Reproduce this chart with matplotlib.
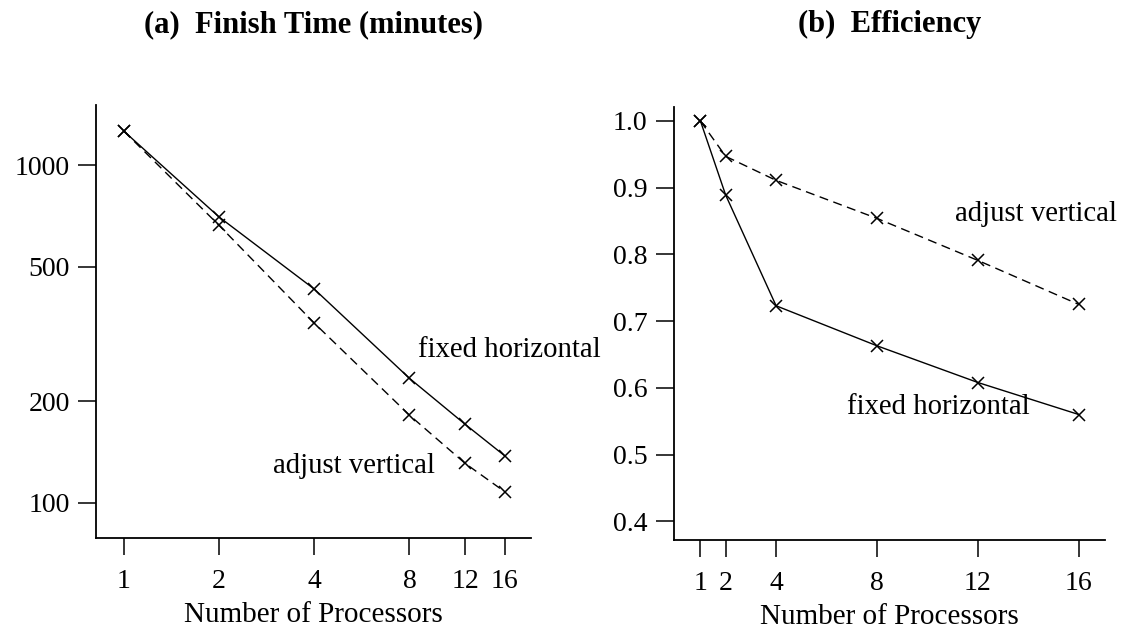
import matplotlib
matplotlib.use("Agg")
import matplotlib.pyplot as plt
from matplotlib.ticker import FixedLocator, FixedFormatter, NullLocator

plt.rcParams['font.family'] = ['Liberation Serif', 'DejaVu Serif']
plt.rcParams['font.size'] = 20

# Number of processors
procs = [1, 2, 4, 8, 12, 16]

# Finish time (minutes)
time_fixed_horizontal = [1262, 703, 430, 234, 171, 138]
time_adjust_vertical = [1262, 664, 341, 182, 131, 108]

# Efficiency
eff_fixed_horizontal = [1.0, 0.889, 0.723, 0.663, 0.608, 0.560]
eff_adjust_vertical = [1.0, 0.947, 0.911, 0.854, 0.791, 0.725]

time_ticks = [100, 200, 500, 1000]
eff_ticks = [0.4, 0.5, 0.6, 0.7, 0.8, 0.9, 1.0]

fig = plt.figure(figsize=(11.27, 6.33), dpi=100)
ax1 = fig.add_axes([0.0852, 0.150, 0.386, 0.684])
ax2 = fig.add_axes([0.5980, 0.147, 0.3825, 0.684])

dash = (0, (6.5, 4))
mk = dict(marker='x', markersize=9, markeredgewidth=1.1, color='black')

def style(ax):
    for s in ('top', 'right'):
        ax.spines[s].set_visible(False)
    for s in ('left', 'bottom'):
        ax.spines[s].set_linewidth(1.3)
    ax.tick_params(axis='both', which='major', direction='out',
                   width=1.1, labelsize=20, colors='black')
    ax.tick_params(axis='x', length=12.5, pad=9.5)
    ax.tick_params(axis='y', length=13, pad=6)
    ax.set_xlabel('Number of Processors', fontsize=21, labelpad=6)

# (a) finish time, log-log
ax1.set_xscale('log', base=2)
ax1.set_yscale('log')
ax1.plot(procs, time_fixed_horizontal, linestyle='-', linewidth=1.0, **mk)
ax1.plot(procs, time_adjust_vertical, linestyle=dash, linewidth=1.0, **mk)
ax1.set_xlim(0.817, 19.4)
ax1.set_ylim(78.7, 1507)
ax1.xaxis.set_major_locator(FixedLocator(procs))
ax1.xaxis.set_major_formatter(FixedFormatter([str(p) for p in procs]))
ax1.xaxis.set_minor_locator(NullLocator())
ax1.yaxis.set_major_locator(FixedLocator(time_ticks))
ax1.yaxis.set_major_formatter(FixedFormatter([str(t) for t in time_ticks]))
ax1.yaxis.set_minor_locator(NullLocator())
style(ax1)
ax1.text(8.5, 283, 'fixed horizontal', ha='left', va='center', fontsize=20.7)
ax1.text(2.96, 129, 'adjust vertical', ha='left', va='center', fontsize=20.7)

# (b) efficiency
ax2.plot(procs, eff_fixed_horizontal, linestyle='-', linewidth=1.0, **mk)
ax2.plot(procs, eff_adjust_vertical, linestyle=dash, linewidth=1.0, **mk)
ax2.set_xlim(-0.05, 17.04)
ax2.set_ylim(0.372, 1.021)
ax2.set_xticks(procs)
ax2.set_xticklabels([str(p) for p in procs])
ax2.set_yticks(eff_ticks)
ax2.set_yticklabels([f'{v:.1f}' for v in eff_ticks])
style(ax2)
ax2.text(11.1, 0.860, 'adjust vertical', ha='left', va='center', fontsize=20.7)
ax2.text(6.80, 0.572, 'fixed horizontal', ha='left', va='center', fontsize=20.7)

# Panel titles, centred over each axes
for ax, title in ((ax1, '(a)  Finish Time (minutes)'), (ax2, '(b)  Efficiency')):
    bb = ax.get_position()
    fig.text((bb.x0 + bb.x1) / 2, 1 - 32 / 633, title, ha='center',
             va='baseline', fontsize=22, fontweight='bold')

fig.savefig('out.png', dpi=100, facecolor='white')
